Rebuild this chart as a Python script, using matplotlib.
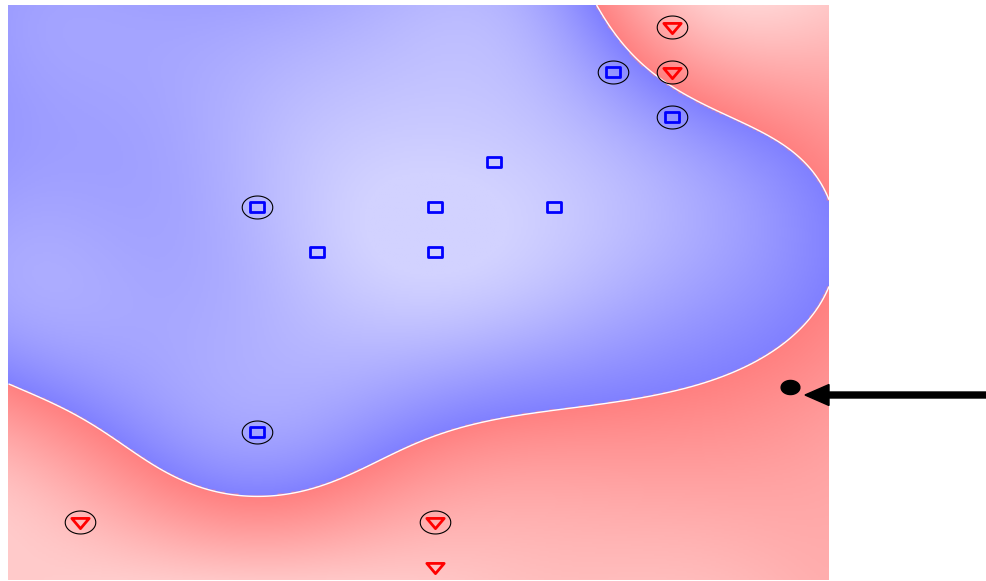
import numpy as np
import matplotlib
matplotlib.use("Agg")
import matplotlib.pyplot as plt
from matplotlib.path import Path
from matplotlib.colors import LinearSegmentedColormap, Normalize
from matplotlib.patches import FancyArrow

############
# points (grid coordinates)
############
blue_x = [10, 11, 8, 4, 7, 9, 5, 7, 4]
blue_y = [11, 10, 9, 8, 8, 8, 7, 7, 3]
blue_sv = [1, 1, 0, 1, 0, 0, 0, 0, 1]
blue_level = [0.3, 0.4, 0.95, 0.65, 1.0, 0.95, 0.9, 1.0, 0.45]

red_x = [11, 11, 1, 7, 7]
red_y = [12, 11, 1, 1, 0]
red_sv = [1, 1, 1, 1, 0]
red_level = [-0.65, -0.35, -0.8, -0.5, -0.8]

test_x = [13]
test_y = [4]

############
# decision boundary
############
edge_x = [-0.16, 1.35, 2.48, 3.77, 4.73, 5.86, 7.42, 9.28, 11.72, 12.32, 13.16, 13.63,
          13.63, 13.33, 13.04, 12.82, 11.98, 11.13, 10.58, 10.17, 9.70]
edge_y = [4.04, 3.04, 2.09, 1.53, 1.71, 2.22, 3.09, 3.53, 4.16, 4.44, 5.27, 6.16,
          8.22, 8.82, 9.27, 9.44, 10.11, 10.53, 11.0, 11.82, 12.49]

# shading read at a few other places (+ blue side, - red side)
shade_x = [-0.2, 13.65, 13.65, -0.2, 13.0, 7.0, 2.0, 10.5, 12.0, 4.0, 10.0, 13.0,
           13.65, 5.0, -0.2, 13.65, 1.4, 3.9, 7.1, 1.4, 2.2, 5.6, 2.0, 8.0,
           6.0, 8.5]
shade_y = [12.5, -0.3, 12.5, -0.3, 4.0, 5.0, 6.0, 6.0, 7.5, 0.0, 1.5, 2.0,
           10.5, 12.5, 8.0, 7.2, 10.4, 10.4, 10.4, 5.9, 4.4, 5.3, 12.5, 12.0,
           9.5, 7.0]
shade_level = [0.35, -0.55, -0.8, -0.85, -0.3, 0.72, 0.5, 0.45, 0.25, -0.75, -0.5, -0.4,
               -0.6, 0.5, 0.4, 0.08, 0.42, 0.6, 0.8, 0.5, 0.38, 0.7, 0.4, 0.7,
               0.95, 1.0]

x0, x1 = -0.2, 13.65
y0, y1 = -0.3, 12.5
sx = 59.3 / 45.0  # one x step is wider than one y step on screen
sigma = 2.9

# smooth surface through the readings (gaussian bumps on a coarse grid)
cx, cy = np.meshgrid(np.linspace(x0, x1, 7), np.linspace(y0, y1, 6))
cx, cy = cx.ravel(), cy.ravel()


def basis(px, py):
    px = np.asarray(px, float); py = np.asarray(py, float)
    d = ((px[:, None] - cx[None]) * sx) ** 2 + (py[:, None] - cy[None]) ** 2
    return np.column_stack([np.exp(-d / (2 * sigma ** 2)), np.ones(len(px))])


px = np.r_[blue_x, red_x, edge_x, shade_x]
py = np.r_[blue_y, red_y, edge_y, shade_y]
tv = np.r_[blue_level, red_level, np.zeros(len(edge_x)), shade_level]
wt = np.r_[np.ones(len(blue_x) + len(red_x)), 4 * np.ones(len(edge_x)), np.ones(len(shade_x))]
A = basis(px, py) * wt[:, None]
lam = 1e-3
coef = np.linalg.solve(A.T @ A + lam * np.eye(A.shape[1]), A.T @ (tv * wt))

gx = np.linspace(x0, x1, 420)
gy = np.linspace(y0, y1, 300)
GX, GY = np.meshgrid(gx, gy)
F = (basis(GX.ravel(), GY.ravel()) @ coef).reshape(GX.shape)

cmap = LinearSegmentedColormap.from_list(
    "svm", [(0, "#ffd2d2"), (0.5, "#ff8080"), (0.5, "#8080ff"), (1, "#d2d2ff")])

fig = plt.figure(figsize=(9.87, 5.81), dpi=100)
ax = fig.add_axes([8.5 / 987, 1 - 580 / 581, (829 - 8.5) / 987, 575 / 581])
ax.imshow(F, extent=(x0, x1, y0, y1), origin="lower", cmap=cmap,
          norm=Normalize(-1, 1, clip=True), aspect="auto", interpolation="bilinear")
ax.contour(GX, GY, F, levels=[0], colors="white", linewidths=1)

# markers (stretched like the original)
sq = Path([(-0.7, -0.5), (0.7, -0.5), (0.7, 0.5), (-0.7, 0.5), (-0.7, -0.5)],
          closed=True)
tri = Path([(-0.85, 0.4), (0.85, 0.4), (0, -0.6), (-0.85, 0.4)], closed=True)
t = np.linspace(0, 2 * np.pi, 60)
ell = Path(np.column_stack([1.33 * np.cos(t), np.sin(t)]))

bx = np.array(blue_x); by = np.array(blue_y); bs = np.array(blue_sv, bool)
rx = np.array(red_x); ry = np.array(red_y); rs = np.array(red_sv, bool)

ax.plot(bx, by, ls="none", marker=sq, ms=10.5, mfc="none", mec="blue", mew=2)
ax.plot(rx, ry, ls="none", marker=tri, ms=12.5, mfc="none", mec="red", mew=2)
ax.plot(np.r_[bx[bs], rx[rs]], np.r_[by[bs], ry[rs]], ls="none", marker=ell,
        ms=22, mfc="none", mec="black", mew=0.8)
ax.plot(test_x, test_y, ls="none", marker=ell, ms=13.5, color="black")

ax.set_xlim(x0, x1)
ax.set_ylim(y0, y1)
ax.axis("off")

fig.patches.append(FancyArrow(9.87, 1.86, -1.82, 0, width=0.06, head_width=0.21,
                              head_length=0.24, length_includes_head=True,
                              transform=fig.dpi_scale_trans, color="black"))

fig.savefig("out.png", dpi=100)
